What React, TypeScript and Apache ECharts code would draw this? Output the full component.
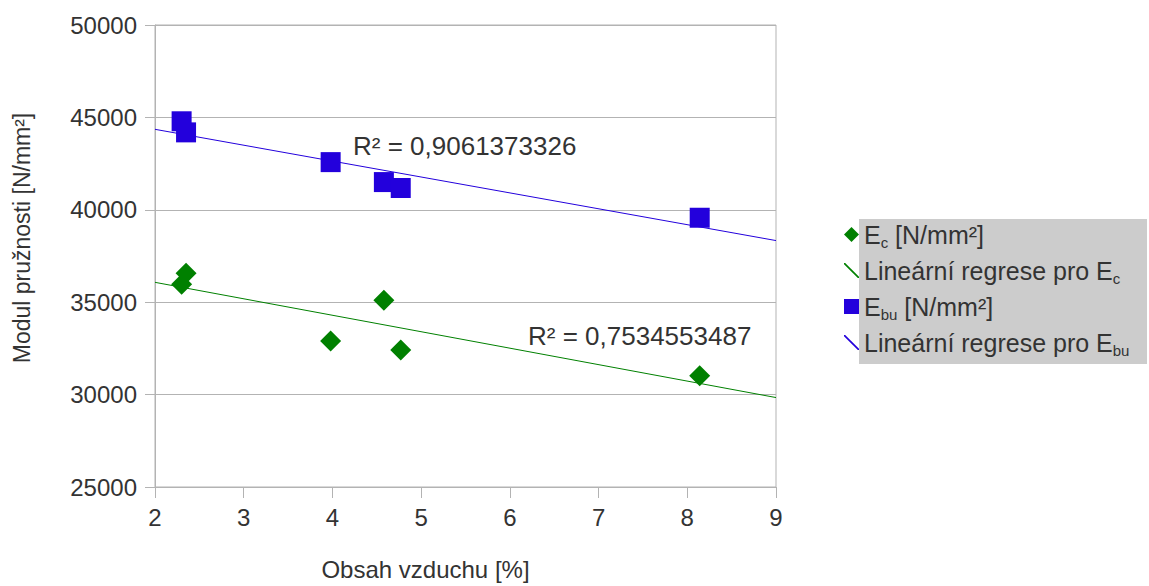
import React, { useEffect, useRef } from "react";
import * as echarts from "echarts";

const ecX = [2.35, 2.3, 3.98, 4.58, 4.77, 8.14];
const ecY = [36560, 35970, 32900, 35110, 32420, 31020];
const ebuX = [2.3, 2.35, 3.98, 4.58, 4.77, 8.14];
const ebuY = [44790, 44190, 42580, 41500, 41180, 39570];
const ecTrendX = [2, 9];
const ecTrendY = [36075, 29840];
const ebuTrendX = [2, 9];
const ebuTrendY = [44355, 38335];
const r2Ec = "R² = 0,7534553487";
const r2Ebu = "R² = 0,9061373326";

const FONT = "Liberation Sans";
const TXT = "#333333";
const GREEN = "#008000";
const BLUE = "#2300dc";

const pairs = (xs: number[], ys: number[]) => xs.map((x, i) => [x, ys[i]]);

export default function App() {
  const ref = useRef<HTMLDivElement>(null);
  useEffect(() => {
    document.body.style.margin = "0";
    const chart = echarts.init(ref.current!, null, { renderer: "svg" });
    const lineIcon = "path://M0,0 L0.8,0 L10,9.2 L10,10 L9.2,10 L0,0.8 Z";
    const rich = {
      n: { fontFamily: FONT, fontSize: 25, color: TXT, lineHeight: 28 },
      s: { fontFamily: FONT, fontSize: 15, color: TXT, padding: [16, 0, 0, 0], lineHeight: 28 },
    };
    chart.setOption({
      animation: false,
      textStyle: { fontFamily: FONT },
      grid: { left: 155, top: 25, width: 621, height: 465, show: true, borderColor: "#b3b3b3", borderWidth: 1 },
      xAxis: {
        type: "value",
        min: 2,
        max: 9,
        interval: 1,
        name: "Obsah vzduchu [%]",
        nameLocation: "middle",
        nameGap: 70,
        nameTextStyle: { fontFamily: FONT, fontSize: 24, color: TXT, padding: [0, 80, 0, 0] },
        axisLine: { show: true, lineStyle: { color: "#b3b3b3" } },
        axisTick: { show: true, length: 11, lineStyle: { color: "#b3b3b3" } },
        axisLabel: { fontFamily: FONT, fontSize: 24, color: TXT, margin: 18 },
        splitLine: { show: false },
      },
      yAxis: {
        type: "value",
        min: 25000,
        max: 50000,
        interval: 5000,
        name: "Modul pružnosti [N/mm²]",
        nameLocation: "middle",
        nameGap: 122,
        nameTextStyle: { fontFamily: FONT, fontSize: 23, color: TXT, padding: [0, 0, 0, 36] },
        axisLine: { show: true, lineStyle: { color: "#b3b3b3" } },
        axisTick: { show: true, length: 10, lineStyle: { color: "#b3b3b3" } },
        axisLabel: { fontFamily: FONT, fontSize: 24, color: TXT, margin: 18, formatter: (v: number) => String(v) },
        splitLine: { show: true, lineStyle: { color: "#b3b3b3" } },
      },
      legend: {
        orient: "vertical",
        left: 839,
        top: 214,
        itemGap: 5,
        itemWidth: 15,
        itemHeight: 15,
        textStyle: { fontFamily: FONT, fontSize: 25, color: TXT, rich },
        formatter: (name: string) => {
          const map: Record<string, string> = {
            ec: "{n|E}{s|c}{n| [N/mm²]}",
            ecl: "{n|Lineární regrese pro E}{s|c}",
            ebu: "{n|E}{s|bu}{n| [N/mm²]}",
            ebul: "{n|Lineární regrese pro E}{s|bu}",
          };
          return map[name];
        },
        data: [
          { name: "ec", icon: "diamond", itemStyle: { color: GREEN } },
          { name: "ecl", icon: lineIcon, itemStyle: { color: GREEN } },
          { name: "ebu", icon: "rect", itemStyle: { color: BLUE } },
          { name: "ebul", icon: lineIcon, itemStyle: { color: BLUE } },
        ],
      },
      graphic: [
        { type: "rect", left: 859, top: 219, z: -10, shape: { width: 288, height: 145 }, style: { fill: "#cccccc" } },
        { type: "text", left: 353, top: 133, style: { text: r2Ebu, fontFamily: FONT, fontSize: 26, fill: TXT } },
        { type: "text", left: 528, top: 323, style: { text: r2Ec, fontFamily: FONT, fontSize: 26, fill: TXT } },
      ],
      series: [
        { name: "ecl", type: "line", data: pairs(ecTrendX, ecTrendY), showSymbol: false, lineStyle: { color: GREEN, width: 1 }, itemStyle: { color: GREEN }, z: 1 },
        { name: "ebul", type: "line", data: pairs(ebuTrendX, ebuTrendY), showSymbol: false, lineStyle: { color: BLUE, width: 1 }, itemStyle: { color: BLUE }, z: 1 },
        { name: "ec", type: "scatter", data: pairs(ecX, ecY), symbol: "diamond", symbolSize: [21, 21], itemStyle: { color: GREEN, opacity: 1 }, z: 3 },
        { name: "ebu", type: "scatter", data: pairs(ebuX, ebuY), symbol: "rect", symbolSize: 20, itemStyle: { color: BLUE, opacity: 1 }, z: 3 },
      ],
    });
    return () => chart.dispose();
  }, []);
  return <div ref={ref} style={{ width: 1149, height: 586 }} />;
}
